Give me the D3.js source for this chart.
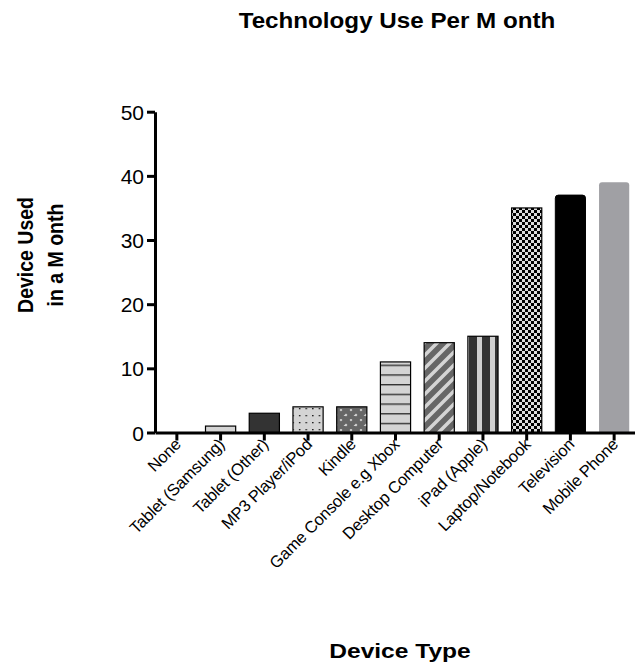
<!DOCTYPE html>
<html>
<head>
<meta charset="utf-8">
<script src="https://cdn.jsdelivr.net/npm/d3@7"></script>
<style>
  html, body { margin: 0; padding: 0; background: #fff; }
  svg { display: block; }
  text { font-family: "Liberation Sans", Arial, Helvetica, sans-serif; fill: #000; }
</style>
</head>
<body>
<svg id="chart" width="635" height="668"></svg>
<script>
const categories = ["None", "Tablet (Samsung)", "Tablet (Other)", "MP3 Player/iPod", "Kindle",
  "Game Console e.g Xbox", "Desktop Computer", "iPad (Apple)", "Laptop/Notebook", "Television", "Mobile Phone"];
const values = [0, 1, 3, 4, 4, 11, 14, 15, 35, 37, 39];
const yTicks = [0, 10, 20, 30, 40, 50];
const titleText = "Technology Use Per M onth";
const yTitleLines = ["Device Used", "in a M onth"];
const xTitleText = "Device Type";

const barStyles = [
  { fill: "#ffffff", stroke: "#000" },
  { fill: "#d4d4d4", stroke: "#000" },
  { fill: "#333333", stroke: "#000" },
  { fill: "url(#pDots)", stroke: "#000" },
  { fill: "url(#pDiamond)", stroke: "#000" },
  { fill: "url(#pHoriz)", stroke: "#000" },
  { fill: "url(#pDiag)", stroke: "#000" },
  { fill: "url(#pVert)", stroke: "#000" },
  { fill: "url(#pCheck)", stroke: "#000" },
  { fill: "#000000", stroke: "#000", round: true },
  { fill: "#a0a0a4", stroke: "none", round: true }
];

const svg = d3.select("#chart");
const defs = svg.append("defs");

// Dots
let p = defs.append("pattern").attr("id", "pDots").attr("patternUnits", "userSpaceOnUse")
  .attr("width", 6.6).attr("height", 7);
p.append("rect").attr("width", 6.6).attr("height", 7).attr("fill", "#d4d4d4");
p.append("rect").attr("x", 2).attr("y", 2).attr("width", 1.3).attr("height", 1.3).attr("fill", "#000");

// Diamond cross-hatch
p = defs.append("pattern").attr("id", "pDiamond").attr("patternUnits", "userSpaceOnUse")
  .attr("width", 10).attr("height", 10).attr("x", 336).attr("y", 0);
p.append("rect").attr("width", 10).attr("height", 10).attr("fill", "#d4d4d4");
p.append("path").attr("d", "M0,0 L10,10 M10,0 L0,10 M-5,5 L0,10 M5,-5 L10,0 M-5,5 L0,0 M5,15 L10,10")
  .attr("stroke", "#666").attr("stroke-width", 5);

// Horizontal lines
p = defs.append("pattern").attr("id", "pHoriz").attr("patternUnits", "userSpaceOnUse")
  .attr("width", 10).attr("height", 9.7).attr("y", 432.5);
p.append("rect").attr("width", 10).attr("height", 9.7).attr("fill", "#d4d4d4");
p.append("rect").attr("y", 0).attr("width", 10).attr("height", 1.4).attr("fill", "#333");

// Diagonal stripes
p = defs.append("pattern").attr("id", "pDiag").attr("patternUnits", "userSpaceOnUse")
  .attr("width", 13).attr("height", 13);
p.append("rect").attr("width", 13).attr("height", 13).attr("fill", "#666");
p.append("path").attr("d", "M-3,16 L16,-3 M-16,16 L3,-3 M10,16 L29,-3")
  .attr("stroke", "#d4d4d4").attr("stroke-width", 3.5);

// Vertical stripes
p = defs.append("pattern").attr("id", "pVert").attr("patternUnits", "userSpaceOnUse")
  .attr("width", 13).attr("height", 10).attr("x", 469);
p.append("rect").attr("width", 13).attr("height", 10).attr("fill", "#333");
p.append("rect").attr("x", 8).attr("width", 5).attr("height", 10).attr("fill", "#d0d0d0");

// Checkerboard
p = defs.append("pattern").attr("id", "pCheck").attr("patternUnits", "userSpaceOnUse")
  .attr("width", 6).attr("height", 6);
p.append("rect").attr("width", 6).attr("height", 6).attr("fill", "#dcdcdc");
p.append("rect").attr("width", 3).attr("height", 3).attr("fill", "#000");
p.append("rect").attr("x", 3).attr("y", 3).attr("width", 3).attr("height", 3).attr("fill", "#000");

const x = d3.scaleBand().domain(categories).range([155, 636]).paddingInner(0.31).paddingOuter(0.155);
const y = d3.scaleLinear().domain([0, 50]).range([432.5, 111.7]);

// Bars
const bars = svg.append("g");
categories.forEach((c, i) => {
  const v = values[i];
  if (v <= 0) return;
  const st = barStyles[i];
  const x0 = x(c), w = x.bandwidth(), y0 = y(v), y1 = y(0);
  if (st.round) {
    const r = 3;
    const d = `M${x0},${y1} L${x0},${y0 + r} Q${x0},${y0} ${x0 + r},${y0} L${x0 + w - r},${y0} Q${x0 + w},${y0} ${x0 + w},${y0 + r} L${x0 + w},${y1} Z`;
    bars.append("path").attr("d", d).attr("fill", st.fill).attr("stroke", st.stroke).attr("stroke-width", 1);
  } else {
    bars.append("rect").attr("x", x0).attr("y", y0).attr("width", w).attr("height", y1 - y0)
      .attr("fill", st.fill).attr("stroke", st.stroke).attr("stroke-width", 1.2);
  }
});

// Y axis
const yAxis = svg.append("g").attr("transform", "translate(155,0)")
  .call(d3.axisLeft(y).tickValues(yTicks).tickSize(8).tickSizeOuter(0).tickPadding(3));
yAxis.select(".domain").attr("stroke", "#000").attr("stroke-width", 3);
yAxis.selectAll(".tick line").attr("stroke", "#000").attr("stroke-width", 3);
yAxis.selectAll(".tick text").style("font-family", "'Liberation Sans', Arial, sans-serif")
  .attr("font-size", 21).attr("fill", "#000").attr("dy", "0.36em");

// X axis
const xAxis = svg.append("g").attr("transform", "translate(0,432.5)")
  .call(d3.axisBottom(x).tickSize(8).tickSizeOuter(0));
xAxis.select(".domain").attr("stroke", "#000").attr("stroke-width", 3);
xAxis.selectAll(".tick line").attr("stroke", "#000").attr("stroke-width", 3);
xAxis.selectAll(".tick text")
  .style("font-family", "'Liberation Sans', Arial, sans-serif")
  .attr("font-size", 16.5).attr("fill", "#000")
  .attr("text-anchor", "end")
  .attr("x", 0).attr("y", 0).attr("dy", 0)
  .attr("transform", "translate(5,13) rotate(-45)")
  .style("letter-spacing", "-0.2px");

// Titles
svg.append("text").attr("transform", "translate(397,27.5) scale(1.1,1)").attr("text-anchor", "middle")
  .attr("font-size", 22).attr("font-weight", "bold")
  .text(titleText);

svg.append("text").attr("transform", "translate(400,658) scale(1.17,1)").attr("text-anchor", "middle")
  .attr("font-size", 21).attr("font-weight", "bold")
  .text(xTitleText);

yTitleLines.forEach((t, i) => {
  svg.append("text")
    .attr("transform", `translate(${33 + i * 29.5},255) scale(1.12,1) rotate(-90)`)
    .attr("text-anchor", "middle")
    .attr("font-size", 19.5).attr("font-weight", "bold")
    .text(t);
});
</script>
</body>
</html>
